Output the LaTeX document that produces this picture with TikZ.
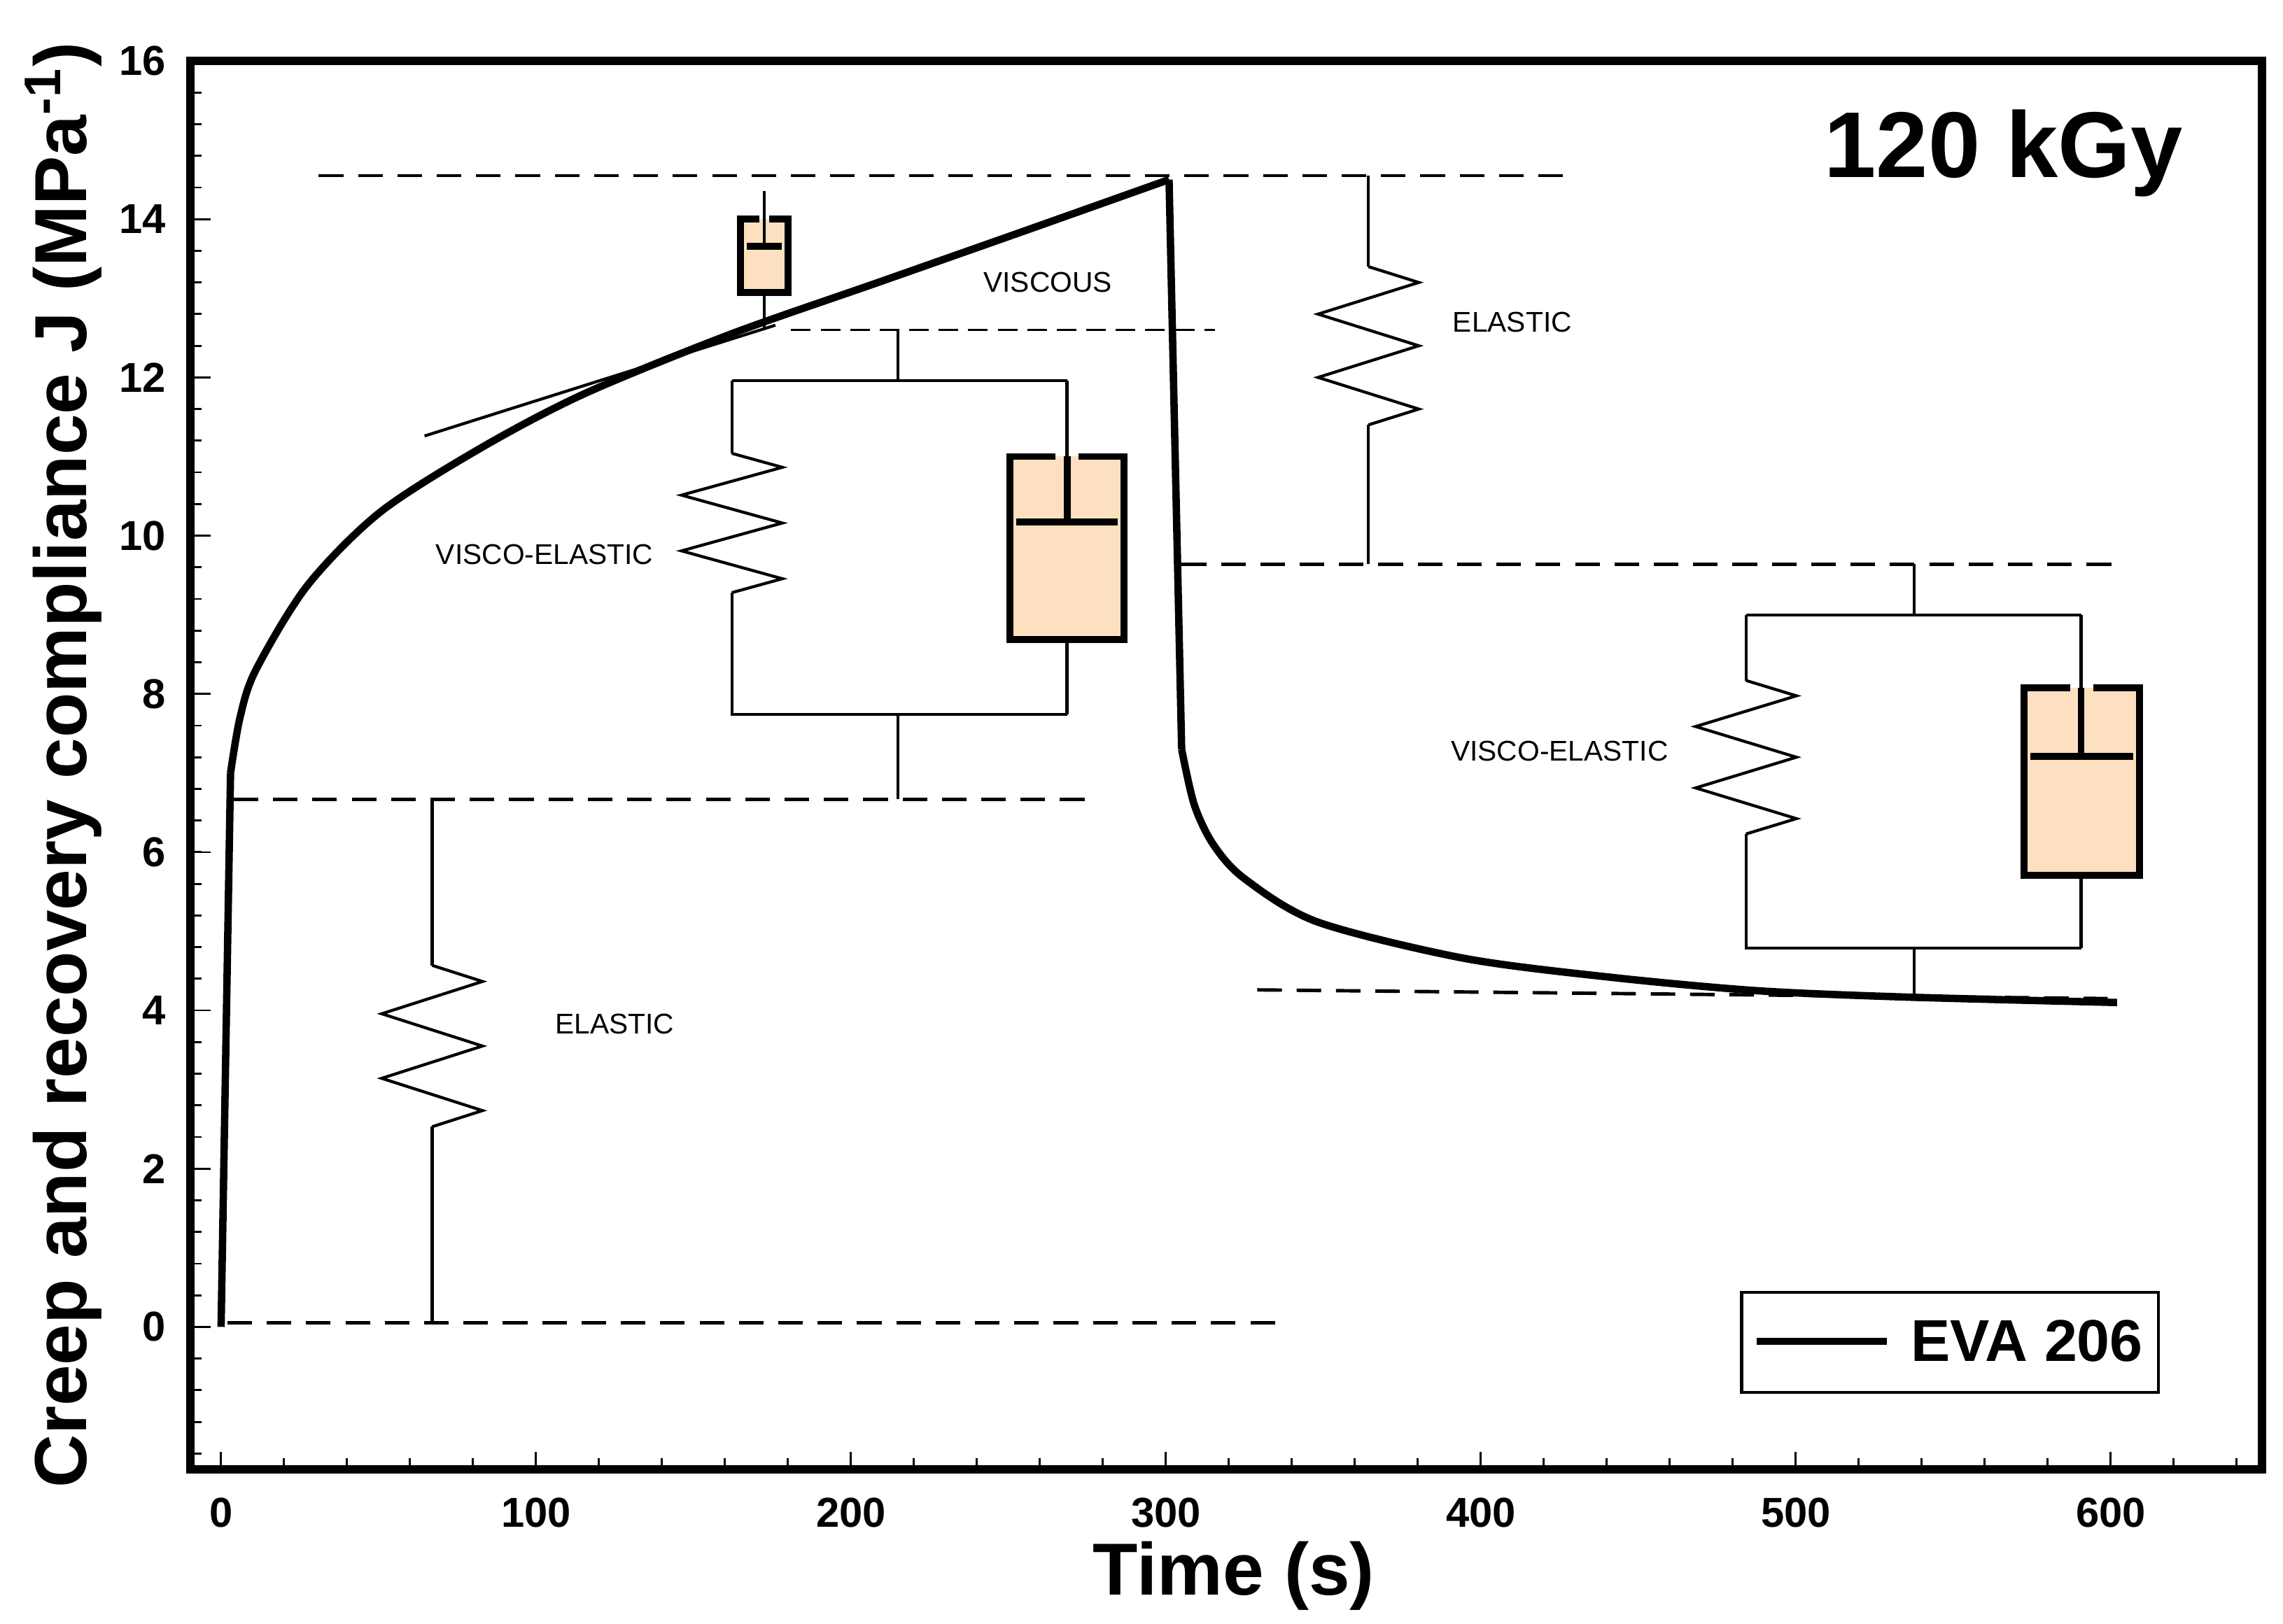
\documentclass[tikz,border=0pt]{standalone}
\usepackage{fontspec}
\setmainfont{Liberation Sans}
\usepackage{xcolor}
\usetikzlibrary{positioning}
\definecolor{oil}{RGB}{252,224,192}

% spring: x, top, bottom, half width
\newcommand{\spring}[4]{%
  \draw[wire] (#1,#2) -- ({#1+#4},{#2-0.1*(#2-#3)})
    -- ({#1-#4},{#2-0.3*(#2-#3)}) -- ({#1+#4},{#2-0.5*(#2-#3)})
    -- ({#1-#4},{#2-0.7*(#2-#3)}) -- ({#1+#4},{#2-0.9*(#2-#3)}) -- (#1,#3);}
% dashpot: left, right, bottom, top, piston
\newcommand{\dashpot}[5]{%
  \fill[oil] (#1,#3) rectangle (#2,#4);
  \draw[pot] ({#1+0.4*(#2-#1)},#4) -- (#1,#4) -- (#1,#3) -- (#2,#3) -- (#2,#4) -- ({#2-0.4*(#2-#1)},#4);
  \draw[pot] ({#1+2},#5) -- ({#2-2},#5);}

\begin{document}
\begin{tikzpicture}[x=0.0225cm, y=0.5656cm,
    wire/.style={line width=0.6pt},
    frame/.style={line width=1.7pt},
    curve/.style={line width=1.5pt, line join=round},
    level/.style={line width=0.7pt, dash pattern=on 5pt off 3pt},
    guide/.style={line width=0.4pt, dash pattern=on 4pt off 2pt},
    pot/.style={line width=1.4pt},
    tag/.style={font=\fontsize{5.8}{6}\selectfont},
    tick/.style={font=\bfseries\fontsize{8.5}{10}\selectfont}]
    \useasboundingbox (-70.2,-3.75) rectangle (654.7,16.77);

    % axes
    \foreach \x in {0,20,...,640} \draw (\x,-1.8) -- ++(0,0.14);
    \foreach \x in {0,100,...,600} {
      \draw (\x,-1.8) -- ++(0,0.22);
      \node[tick] (xl\x) at (\x,-2.35) {\x};
    }
    \foreach \y in {-1.6,-1.2,...,15.7} \draw (-9.8,\y) -- ++(3.6,0);
    \foreach \y in {0,2,...,16} {
      \draw (-9.8,\y) -- ++(6.5,0);
      \node[tick, anchor=east] (yl\y) at (-12,\y) {\y};
    }
    \draw[frame] (-9.8,-1.8) rectangle (648,16);
    \node[font=\bfseries\fontsize{15}{16}\selectfont] (xt) at (321.6,-3.15) {Time (s)};
    \node[font=\bfseries\fontsize{15}{16}\selectfont, rotate=90] (yt) at (-50,7.1)
      {Creep and recovery compliance J (MPa\textsuperscript{-1})};

    % levels
    \draw[level] (31,14.55) -- (429,14.55);
    \draw[level] (4,6.67) -- (277,6.67);
    \draw[level] (2,0.05) -- (339,0.05);
    \draw[level] (305,9.64) -- (601,9.64);
    \draw[level] (329,4.26) -- (599,4.15);
    \draw[guide] (181,12.6) -- (315.5,12.6);
    \draw[wire] (64.6,11.26) -- (176,12.66);

    % compliance curve
    \draw[curve] (0,0) -- (3,7.0) plot[smooth, tension=0.5] coordinates {
      (3,7.0) (6,7.7) (11,8.3) (27.4,9.37) (50.6,10.3) (83,11.12)
      (115.7,11.8) (162,12.55) (208.6,13.2) (255,13.85) (301,14.5)};
    \draw[curve] (301,14.5) -- (305,7.3) plot[smooth, tension=0.5] coordinates {
      (305,7.3) (309,6.6) (315,6.1) (324.8,5.67) (348,5.12)
      (394.5,4.66) (441,4.42) (487.5,4.25) (534,4.17) (602,4.1)};

    % elastic (loading)
    \draw[wire] (67,0.05) -- (67,2.53);
    \spring{67}{4.57}{2.53}{16}
    \draw[wire] (67,4.57) -- (67,6.67);
    \node[tag] (el1) at (125,3.83) {ELASTIC};

    % visco-elastic (loading)
    \draw[wire] (215,12.6) -- (215,11.96);
    \draw[wire] (162.2,11.96) -- (268.6,11.96);
    \draw[wire] (162.2,11.96) -- (162.2,11.04);
    \spring{162.2}{11.04}{9.28}{16}
    \draw[wire] (162.2,9.28) -- (162.2,7.74) -- (268.6,7.74);
    \draw[wire] (268.6,11.96) -- (268.6,11.0);
    \dashpot{250.5}{286.7}{8.69}{11.0}{10.17}
    \draw[pot] (268.6,10.17) -- (268.6,11.0);
    \draw[wire] (268.6,8.69) -- (268.6,7.74);
    \draw[wire] (215,7.74) -- (215,6.67);
    \node[tag] (ve1) at (102.7,9.76) {VISCO-ELASTIC};

    % viscous
    \dashpot{165}{180}{13.07}{14.0}{13.66}
    \draw[wire] (172.5,13.66) -- (172.5,14.36);
    \draw[wire] (172.5,13.07) -- (172.5,12.6);
    \node[tag] (vi) at (262.5,13.2) {VISCOUS};

    % elastic (recovery)
    \draw[wire] (364.3,14.55) -- (364.3,13.4);
    \spring{364.3}{13.4}{11.4}{16}
    \draw[wire] (364.3,11.4) -- (364.3,9.64);
    \node[tag] (el2) at (410,12.7) {ELASTIC};

    % visco-elastic (recovery)
    \draw[wire] (537.6,9.64) -- (537.6,9.0);
    \draw[wire] (484.2,9.0) -- (590.6,9.0);
    \draw[wire] (484.2,9.0) -- (484.2,8.17);
    \spring{484.2}{8.17}{6.23}{16}
    \draw[wire] (484.2,6.23) -- (484.2,4.79) -- (590.6,4.79);
    \draw[wire] (590.6,9.0) -- (590.6,8.08);
    \dashpot{572.5}{609.2}{5.71}{8.08}{7.21}
    \draw[pot] (590.6,7.21) -- (590.6,8.08);
    \draw[wire] (590.6,5.71) -- (590.6,4.79);
    \draw[wire] (537.6,4.79) -- (537.6,4.2);
    \node[tag] (ve2) at (425,7.28) {VISCO-ELASTIC};

    % title and legend
    \node[font=\bfseries\fontsize{19}{20}\selectfont] (dose) at (566,14.83) {120 kGy};
    \draw[wire] (482.8,-0.83) rectangle (615.2,0.44);
    \coordinate (la) at (487.5,-0.18);
    \coordinate (lb) at (529,-0.18);
    \draw[curve] (la) -- (lb);
    \node[font=\bfseries\fontsize{12}{13}\selectfont] (leg) at (573.4,-0.18) {EVA 206};
\end{tikzpicture}
\end{document}
